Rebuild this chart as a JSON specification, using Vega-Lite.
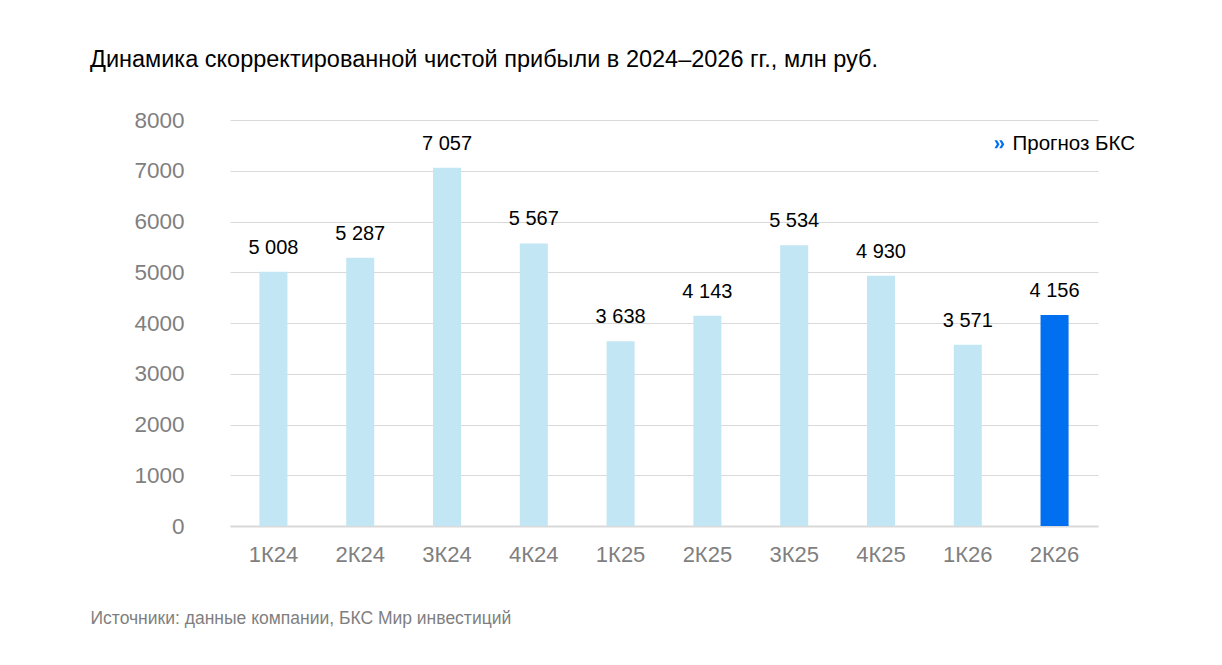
{
  "$schema": "https://vega.github.io/schema/vega-lite/v6.json",
  "autosize": "none",
  "width": 868,
  "height": 406,
  "padding": {"left": 230, "top": 120, "right": 124, "bottom": 139},
  "background": "white",
  "title": {
    "text": "Динамика скорректированной чистой прибыли в 2024–2026 гг., млн руб.",
    "anchor": "start",
    "frame": "group",
    "dx": -140,
    "offset": 38,
    "font": "Liberation Sans",
    "fontSize": 23.5,
    "fontWeight": "normal",
    "color": "#000000"
  },
  "data": {
    "values": [
      {"quarter": "1К24", "profit": 5008, "type": "факт"},
      {"quarter": "2К24", "profit": 5287, "type": "факт"},
      {"quarter": "3К24", "profit": 7057, "type": "факт"},
      {"quarter": "4К24", "profit": 5567, "type": "факт"},
      {"quarter": "1К25", "profit": 3638, "type": "факт"},
      {"quarter": "2К25", "profit": 4143, "type": "факт"},
      {"quarter": "3К25", "profit": 5534, "type": "факт"},
      {"quarter": "4К25", "profit": 4930, "type": "факт"},
      {"quarter": "1К26", "profit": 3571, "type": "факт"},
      {"quarter": "2К26", "profit": 4156, "type": "Прогноз БКС"}
    ]
  },
  "encoding": {
    "x": {
      "field": "quarter",
      "type": "ordinal",
      "sort": null,
      "scale": {"paddingInner": 0.677, "paddingOuter": 0.339},
      "axis": {
        "title": "Источники: данные компании, БКС Мир инвестиций",
        "titleAnchor": "start",
        "titleAlign": "left",
        "titleX": -140,
        "titleY": 92,
        "titleBaseline": "middle",
        "titleFont": "Liberation Sans",
        "titleFontSize": 17.5,
        "titleFontWeight": "normal",
        "titleColor": "#7f7f7f",
        "labelAngle": 0,
        "labelFont": "Liberation Sans",
        "labelFontSize": 22,
        "labelColor": "#7f7f7f",
        "labelPadding": 18,
        "ticks": false,
        "domainColor": "#d9d9d9",
        "domainWidth": 2
      }
    },
    "y": {
      "field": "profit",
      "type": "quantitative",
      "scale": {"domain": [0, 8000], "nice": false},
      "axis": {
        "title": null,
        "values": [0, 1000, 2000, 3000, 4000, 5000, 6000, 7000, 8000],
        "format": "d",
        "labelFont": "Liberation Sans",
        "labelFontSize": 22.5,
        "labelColor": "#7f7f7f",
        "labelPadding": 46,
        "ticks": false,
        "domain": false,
        "gridColor": "#d9d9d9",
        "gridWidth": 1
      }
    }
  },
  "layer": [
    {
      "mark": {"type": "bar"},
      "encoding": {
        "color": {
          "field": "type",
          "type": "nominal",
          "scale": {"domain": ["факт", "Прогноз БКС"], "range": ["#c3e6f4", "#006ff0"]},
          "legend": {
            "title": null,
            "values": ["Прогноз БКС"],
            "orient": "none",
            "legendX": 759,
            "legendY": 14,
            "symbolType": "M-1,-0.85L-0.45,-0.85L0.05,0L-0.45,0.85L-1,0.85L-0.5,0Z M0,-0.85L0.55,-0.85L1.05,0L0.55,0.85L0,0.85L0.5,0Z",
            "symbolSize": 90,
            "symbolStrokeWidth": 0,
            "labelFont": "Liberation Sans",
            "labelFontSize": 20.5,
            "labelColor": "#000000",
            "labelOffset": 3
          }
        }
      }
    },
    {
      "mark": {
        "type": "text",
        "baseline": "alphabetic",
        "dy": -18,
        "font": "Liberation Sans",
        "fontSize": 20,
        "color": "#000000"
      },
      "encoding": {
        "text": {"field": "profit", "type": "quantitative", "format": ","}
      }
    }
  ],
  "config": {
    "locale": {
      "number": {"decimal": ",", "thousands": " ", "grouping": [3], "currency": ["", " ₽"]}
    },
    "view": {"stroke": null}
  }
}
